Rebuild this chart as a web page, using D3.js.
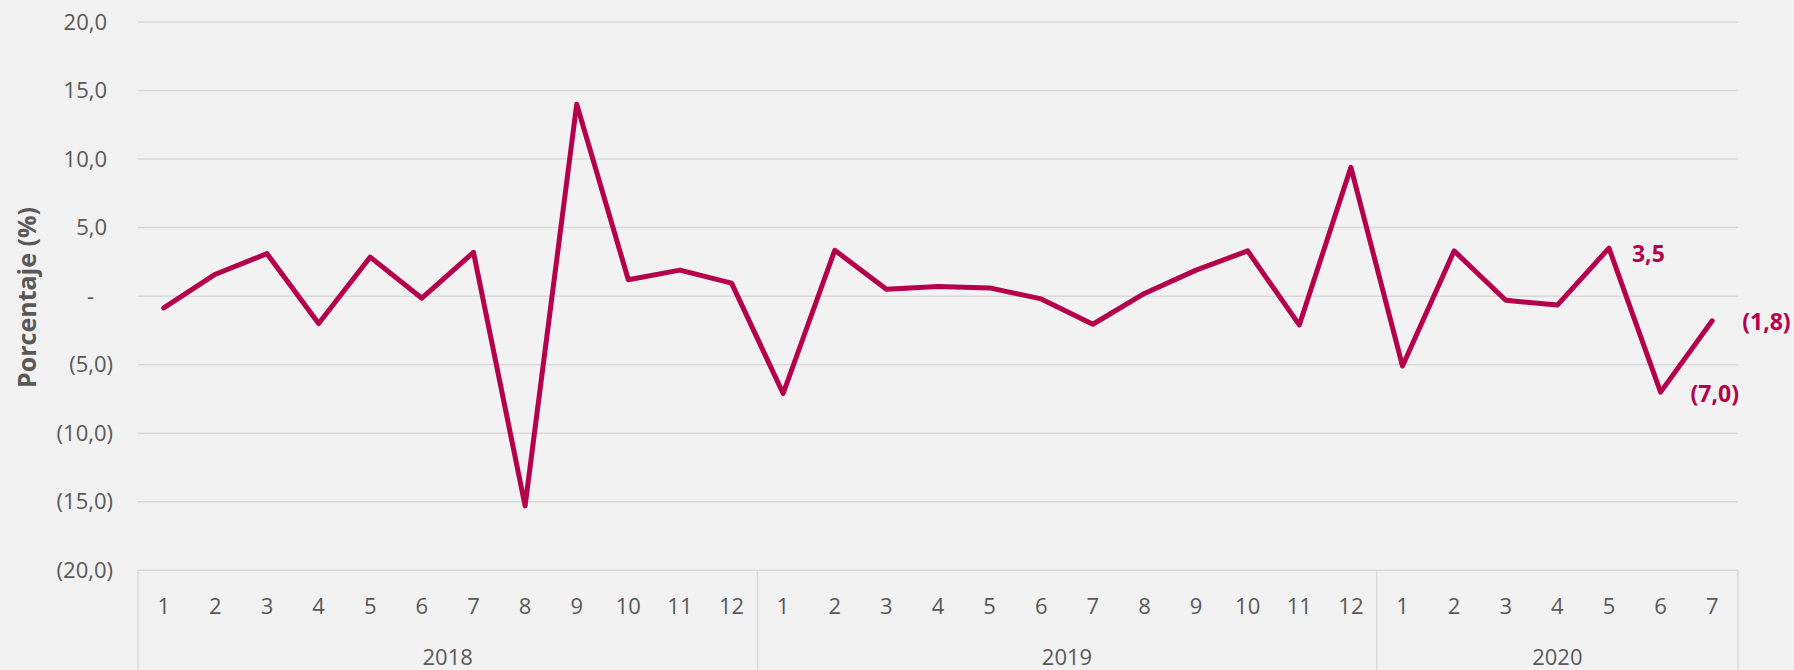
<!DOCTYPE html>
<html>
<head>
<meta charset="utf-8">
<script src="https://cdn.jsdelivr.net/npm/d3@7"></script>
<style>
  html, body { margin: 0; padding: 0; background: #F2F2F2; }
  svg { display: block; }
  text { font-family: "Segoe UI", "Open Sans", sans-serif; }
</style>
</head>
<body>
<svg id="chart" width="1794" height="670"></svg>
<script>
// ---- data ----
const months = ["1","2","3","4","5","6","7","8","9","10","11","12",
                "1","2","3","4","5","6","7","8","9","10","11","12",
                "1","2","3","4","5","6","7"];
const years = ["2018", "2019", "2020"];
const monthsPerYear = [12, 12, 7];
const values = [-0.85, 1.6, 3.1, -2.0, 2.85, -0.15, 3.2, -15.3, 14.0, 1.2, 1.9, 0.95,
                -7.1, 3.35, 0.5, 0.7, 0.6, -0.2, -2.05, 0.2, 1.9, 3.3, -2.1, 9.4,
                -5.1, 3.3, -0.3, -0.65, 3.5, -7.0, -1.8];
const yTicks = [20, 15, 10, 5, 0, -5, -10, -15, -20];
const labeledPoints = [28, 29, 30];
const yTitle = "Porcentaje (%)";

// ---- formatting (Excel accounting style) ----
const fmtNum = v => {
  const s = Math.abs(v).toFixed(1).replace(".", ",");
  if (Math.abs(v) < 1e-9) return "-";
  return v < 0 ? "(" + s + ")" : s;
};

// ---- layout ----
const W = 1794, H = 670;
const plot = { left: 138, right: 1738, top: 22, bottom: 570.3 };
const lineColor = "#B5004B";
const textColor = "#595959";
const gridColor = "#D9D9D9";

const svg = d3.select("#chart");
svg.append("rect").attr("width", W).attr("height", H).attr("fill", "#F2F2F2");

const idx = d3.range(values.length);
const x = d3.scaleBand().domain(idx).range([plot.left, plot.right]).padding(0);
const y = d3.scaleLinear().domain([-20, 20]).range([plot.bottom, plot.top]);
const xc = i => x(i) + x.bandwidth() / 2;

// gridlines
svg.append("g").selectAll("line").data(yTicks).join("line")
  .attr("x1", plot.left).attr("x2", plot.right)
  .attr("y1", d => y(d)).attr("y2", d => y(d))
  .attr("stroke", gridColor).attr("stroke-width", 1.5);

// y axis labels
const yAxis = svg.append("g").attr("transform", `translate(113,0)`)
  .call(d3.axisLeft(y).tickValues(yTicks).tickSize(0).tickPadding(0).tickFormat(fmtNum));
yAxis.select(".domain").remove();
yAxis.selectAll("text")
  .attr("fill", textColor)
  .style("font-size", "22px")
  .attr("dx", d => d > 0 ? -6 : (d === 0 ? -19 : 0));

// y title
svg.append("text")
  .attr("transform", `translate(36, ${(208 + 387) / 2}) rotate(-90)`)
  .attr("text-anchor", "middle")
  .attr("fill", textColor)
  .style("font-size", "25px")
  .style("font-weight", "bold")
  .text(yTitle);

// category axis (months)
const xAxis = svg.append("g").attr("transform", `translate(0, ${plot.bottom})`)
  .call(d3.axisBottom(x).tickSize(0).tickPadding(0).tickFormat(i => months[i]));
xAxis.select(".domain").remove();
xAxis.selectAll("text")
  .attr("fill", textColor)
  .style("font-size", "22px")
  .attr("dy", null)
  .attr("y", 614 - plot.bottom);

// year group separators and labels
let start = 0;
const bounds = [0];
monthsPerYear.forEach(n => { start += n; bounds.push(start); });
svg.append("g").selectAll("line").data(bounds).join("line")
  .attr("x1", b => b < values.length ? x(b) : plot.right)
  .attr("x2", b => b < values.length ? x(b) : plot.right)
  .attr("y1", plot.bottom).attr("y2", H)
  .attr("stroke", gridColor).attr("stroke-width", 1.5);

svg.append("g").selectAll("text").data(years).join("text")
  .attr("x", (d, i) => {
    const a = x(bounds[i]);
    const b = bounds[i + 1] < values.length ? x(bounds[i + 1]) : plot.right;
    return (a + b) / 2;
  })
  .attr("y", 665)
  .attr("text-anchor", "middle")
  .attr("fill", textColor)
  .style("font-size", "22px")
  .text(d => d);

// line
const line = d3.line().x(i => xc(i)).y(i => y(values[i]));
svg.append("path").datum(idx)
  .attr("d", line)
  .attr("fill", "none")
  .attr("stroke", lineColor)
  .attr("stroke-width", 5)
  .attr("stroke-linejoin", "round")
  .attr("stroke-linecap", "round");

// data labels
svg.append("g").selectAll("text").data(labeledPoints).join("text")
  .attr("x", i => xc(i) + (values[i] < 0 ? 30 : 23))
  .attr("y", i => y(values[i]))
  .attr("dy", i => values[i] < 0 ? "0.42em" : "0.62em")
  .attr("fill", lineColor)
  .style("font-size", "23px")
  .style("font-weight", "bold")
  .text(i => fmtNum(values[i]));
</script>
</body>
</html>
